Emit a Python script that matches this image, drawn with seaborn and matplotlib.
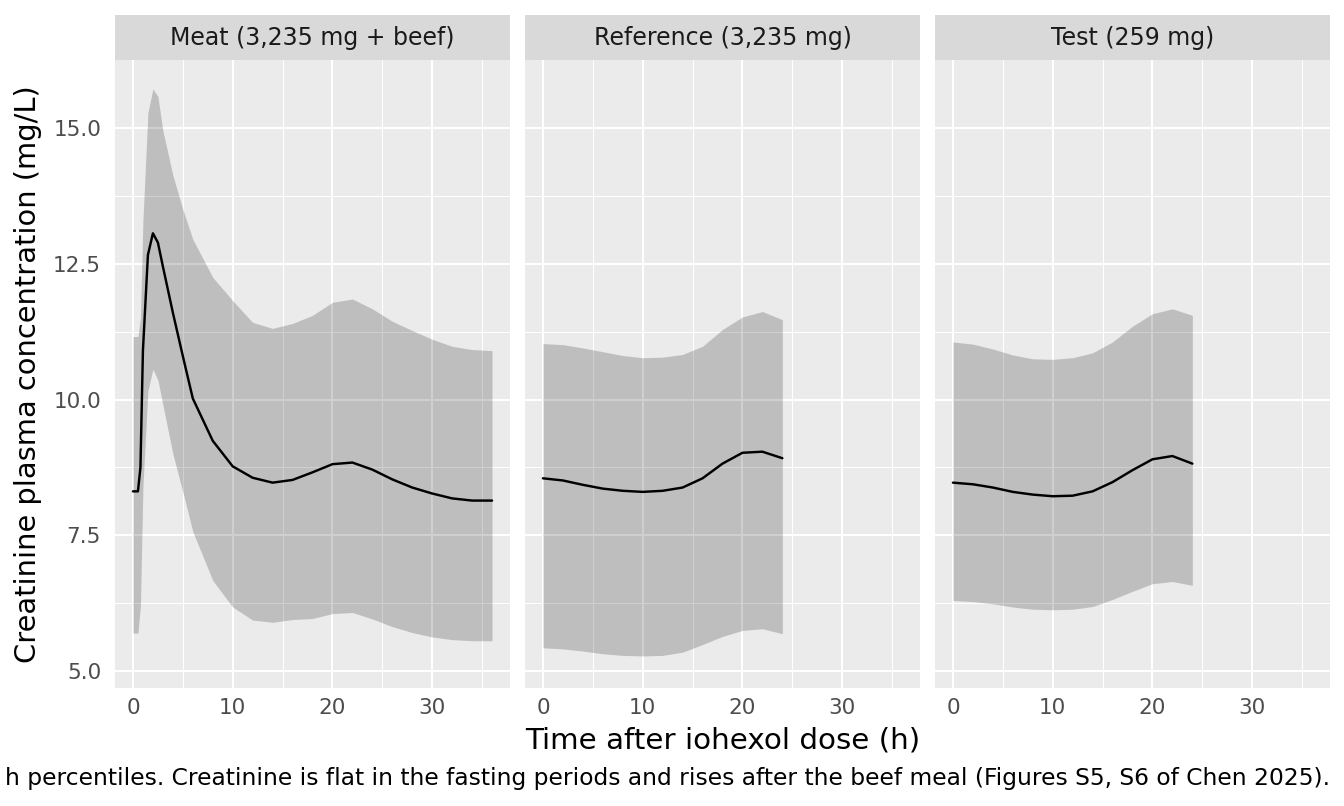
import numpy as np
import pandas as pd
import seaborn as sns
import matplotlib.pyplot as plt

# panel titles
panels = ["Meat (3,235 mg + beef)", "Reference (3,235 mg)", "Test (259 mg)"]

# meat arm, denser sampling around the meal
t_meat = [0, 0.5, 0.75, 1, 1.5, 2, 2.5, 3, 4, 5, 6, 8, 10, 12, 14, 16, 18, 20,
          22, 24, 26, 28, 30, 32, 34, 36]
med_meat = [8.31, 8.31, 8.75, 10.9, 12.66, 13.06, 12.89, 12.45, 11.6, 10.8, 10.02,
            9.24, 8.77, 8.56, 8.47, 8.52, 8.66, 8.81, 8.84, 8.71, 8.53, 8.38,
            8.27, 8.18, 8.14, 8.14]
hi_meat = [11.16, 11.16, 11.5, 13.3, 15.28, 15.72, 15.58, 14.95, 14.13, 13.5, 12.95,
           12.25, 11.82, 11.42, 11.31, 11.40, 11.55, 11.79, 11.85, 11.67, 11.44,
           11.27, 11.11, 10.98, 10.92, 10.90]
lo_meat = [5.70, 5.70, 6.2, 8.4, 10.16, 10.56, 10.36, 9.9, 9.0, 8.3, 7.57,
           6.67, 6.18, 5.94, 5.90, 5.95, 5.97, 6.06, 6.08, 5.96, 5.82, 5.71,
           5.63, 5.58, 5.56, 5.56]

# fasting arms
t_fast = [0, 2, 4, 6, 8, 10, 12, 14, 16, 18, 20, 22, 24]
med_ref = [8.55, 8.51, 8.43, 8.36, 8.32, 8.30, 8.32, 8.38, 8.55, 8.82, 9.02, 9.04, 8.92]
hi_ref = [11.03, 11.01, 10.95, 10.88, 10.81, 10.77, 10.78, 10.83, 10.98, 11.29, 11.52, 11.62, 11.47]
lo_ref = [5.43, 5.41, 5.37, 5.32, 5.29, 5.28, 5.29, 5.35, 5.49, 5.64, 5.75, 5.78, 5.69]

med_test = [8.47, 8.44, 8.38, 8.30, 8.25, 8.22, 8.23, 8.31, 8.48, 8.70, 8.90, 8.96, 8.82]
hi_test = [11.06, 11.02, 10.93, 10.82, 10.75, 10.74, 10.77, 10.86, 11.06, 11.35, 11.58, 11.67, 11.55]
lo_test = [6.30, 6.28, 6.24, 6.18, 6.14, 6.13, 6.14, 6.19, 6.32, 6.47, 6.61, 6.65, 6.58]

# caption as it shows in the figure (its start runs off the left edge)
caption = ("h percentiles. Creatinine is flat in the fasting periods and rises "
           "after the beef meal (Figures S5, S6 of Chen 2025).")

frames = []
for name, t, m, lo, hi in [(panels[0], t_meat, med_meat, lo_meat, hi_meat),
                           (panels[1], t_fast, med_ref, lo_ref, hi_ref),
                           (panels[2], t_fast, med_test, lo_test, hi_test)]:
    frames.append(pd.DataFrame({"arm": name, "time": t, "median": m, "lo": lo, "hi": hi}))
df = pd.concat(frames, ignore_index=True)

sns.set_style("white")
plt.rcParams['font.family'] = ['DejaVu Sans']

W, H = 1344, 806
fig = plt.figure(figsize=(W / 100, H / 100), dpi=100)

lefts = [115, 525, 935]
pw = 395
top, bot = 60, 688
strip_h = 45

for i, name in enumerate(panels):
    ax = fig.add_axes([lefts[i] / W, 1 - bot / H, pw / W, (bot - top) / H])
    ax.set_facecolor("#EBEBEB")
    sub = df[df["arm"] == name]
    ax.fill_between(sub["time"], sub["lo"], sub["hi"], color="black", alpha=0.19,
                    linewidth=0, zorder=2)
    sns.lineplot(data=sub, x="time", y="median", ax=ax, color="black", linewidth=1.75,
                 zorder=3)
    ax.set_xlim(-1.8, 37.8)
    ax.set_ylim(4.69, 16.25)
    ax.set_xticks([0, 10, 20, 30])
    ax.set_xticks([5, 15, 25, 35], minor=True)
    ax.set_yticks([5, 7.5, 10, 12.5, 15])
    ax.set_yticks([6.25, 8.75, 11.25, 13.75], minor=True)
    ax.grid(which="major", color="white", linewidth=1.5, zorder=0)
    ax.grid(which="minor", color="white", linewidth=0.75, zorder=0)
    ax.set_axisbelow(True)
    for s in ax.spines.values():
        s.set_visible(False)
    ax.tick_params(which="major", length=4.5, width=1.3, color="#333333",
                   labelcolor="#4D4D4D", labelsize=15.5)
    ax.tick_params(axis="x", which="major", pad=2.5)
    ax.tick_params(axis="y", which="major", pad=5.5)
    ax.tick_params(which="minor", length=0)
    ax.set_xlabel("")
    ax.set_ylabel("")
    if i == 0:
        ax.set_yticklabels(["5.0", "7.5", "10.0", "12.5", "15.0"])
    else:
        ax.tick_params(axis="y", which="both", left=False, labelleft=False)

    # facet strip
    sax = fig.add_axes([lefts[i] / W, 1 - top / H, pw / W, strip_h / H])
    sax.set_facecolor("#D9D9D9")
    sax.set_xticks([])
    sax.set_yticks([])
    for s in sax.spines.values():
        s.set_visible(False)
    sax.text(0.5, 0.5, name, ha="center", va="center", fontsize=17,
             color="#1A1A1A", transform=sax.transAxes)

fig.text((115 + 1330) / 2 / W, 1 - 740 / H, "Time after iohexol dose (h)",
         ha="center", va="center", fontsize=21.2, color="black")
fig.text(28 / W, 1 - ((top + bot) / 2) / H, "Creatinine plasma concentration (mg/L)",
         ha="center", va="center", rotation=90, fontsize=20.8, color="black")
fig.text(1330 / W, 1 - 778 / H, caption,
         ha="right", va="center", fontsize=16.8, color="black")

fig.savefig("out.png", dpi=100, facecolor="white")
